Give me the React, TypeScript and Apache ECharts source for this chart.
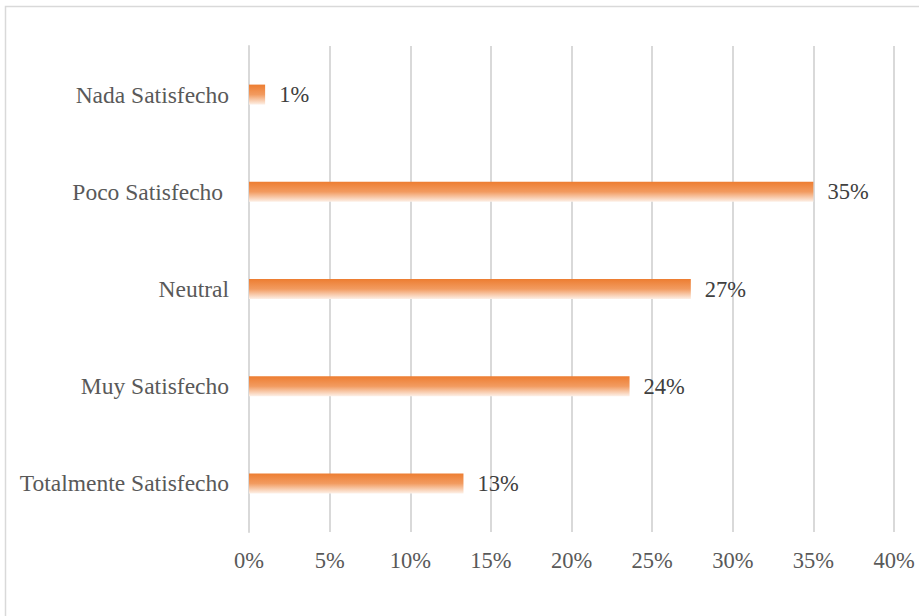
import React, { useEffect, useRef } from "react";
import * as echarts from "echarts";

const categories = [
  "Totalmente Satisfecho",
  "Muy Satisfecho",
  "Neutral",
  "Poco Satisfecho ",
  "Nada Satisfecho",
];
const values = [13.3, 23.6, 27.4, 35, 1];
const xTicks = [0, 5, 10, 15, 20, 25, 30, 35, 40];

export default function App() {
  const ref = useRef<HTMLDivElement>(null);
  useEffect(() => {
    if (!ref.current) return;
    const chart = echarts.init(ref.current, undefined, { renderer: "svg" });
    const font = "Liberation Serif";
    chart.setOption({
      animation: false,
      backgroundColor: "#ffffff",
      graphic: [
        {
          type: "rect",
          shape: { x: 5.5, y: 6.5, width: 1000, height: 1000 },
          style: { fill: "none", stroke: "#d9d9d9", lineWidth: 1.5 },
          silent: true,
        },
      ],
      grid: { left: 249, right: 25, top: 46, bottom: 84, containLabel: false },
      xAxis: {
        type: "value",
        min: xTicks[0],
        max: xTicks[xTicks.length - 1],
        interval: 5,
        axisLine: { show: false },
        axisTick: { show: false },
        splitLine: { show: true, lineStyle: { color: "#d9d9d9", width: 2 } },
        axisLabel: {
          formatter: (v: number) => `${v}%`,
          color: "#595959",
          fontFamily: font,
          fontSize: 22.5,
          margin: 17,
        },
      },
      yAxis: {
        type: "category",
        data: categories,
        axisLine: { show: true, lineStyle: { color: "#d9d9d9", width: 2 } },
        axisTick: { show: false },
        axisLabel: {
          color: "#595959",
          fontFamily: font,
          fontSize: 23.5,
          margin: 20,
        },
      },
      series: [
        {
          type: "bar",
          data: values,
          barWidth: 20,
          itemStyle: {
            color: new echarts.graphic.LinearGradient(0, 0, 0, 1, [
              { offset: 0, color: "#ED7D31" },
              { offset: 0.5, color: "#F29B60" },
              { offset: 1, color: "#FDF0E7" },
            ]),
          },
          label: {
            show: true,
            position: "right",
            distance: 14,
            formatter: (p: any) => `${Math.round(p.value)}%`,
            color: "#404040",
            fontFamily: font,
            fontSize: 22.5,
          },
        },
      ],
    });
    return () => chart.dispose();
  }, []);
  return (
    <div
      ref={ref}
      style={{ position: "absolute", left: 0, top: 0, width: 919, height: 616 }}
    />
  );
}
